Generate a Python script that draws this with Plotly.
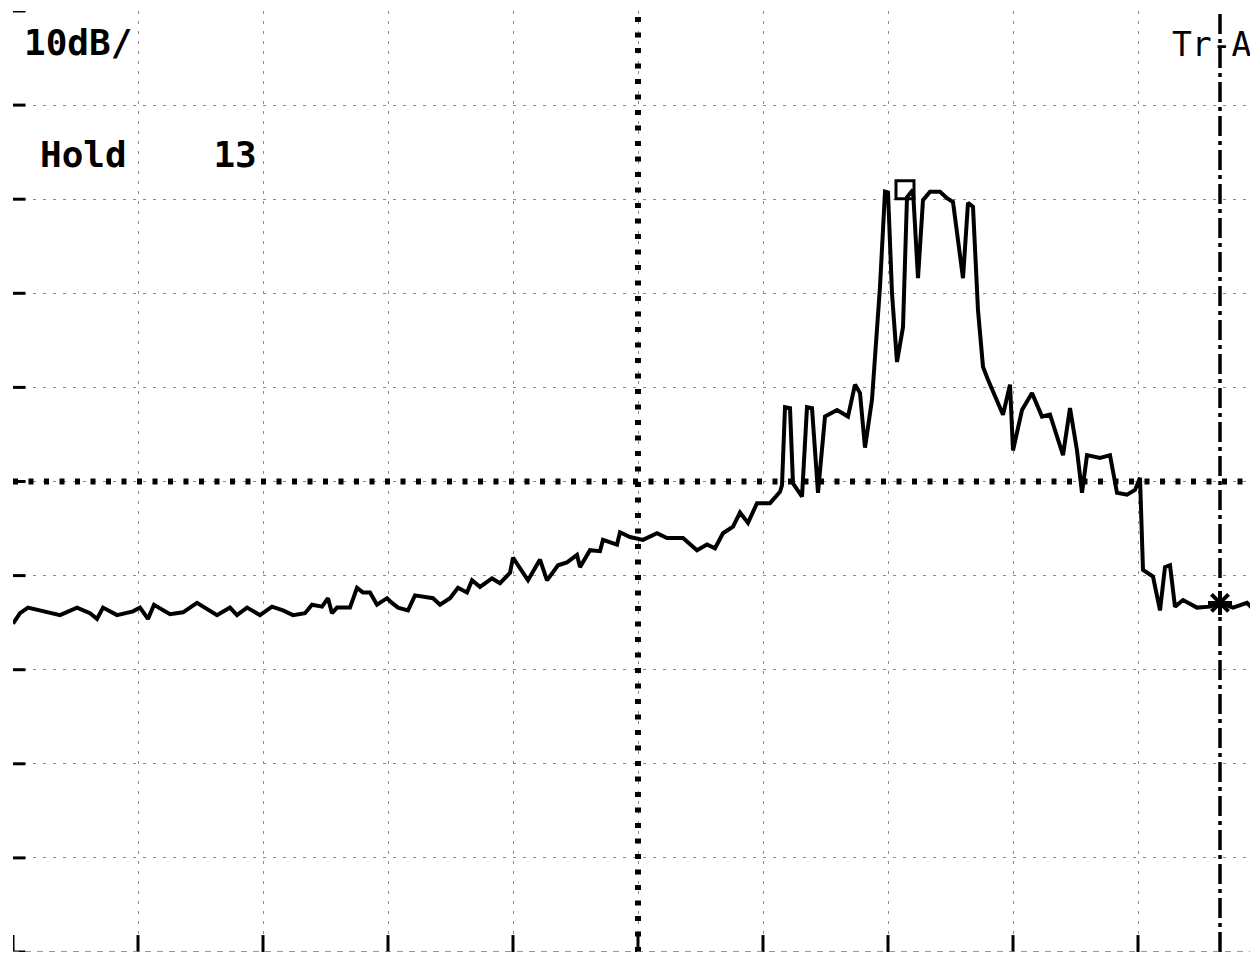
import plotly.graph_objects as go

# Horizontal position in screen divisions (0..10), level in dB (10 dB/div, top = 0 dB)
freq_div = [
    0.000, 0.056, 0.120, 0.272, 0.376, 0.512, 0.616, 0.672, 0.720, 0.832,
    0.960, 1.016, 1.080, 1.128, 1.200, 1.256, 1.360, 1.472, 1.632, 1.736,
    1.792, 1.872, 1.976, 2.072, 2.160, 2.240, 2.336, 2.392, 2.472, 2.520,
    2.552, 2.592, 2.696, 2.752, 2.800, 2.856, 2.912, 2.992, 3.032, 3.080,
    3.160, 3.216, 3.360, 3.416, 3.496, 3.560, 3.632, 3.672, 3.736, 3.832,
    3.896, 3.976, 4.000, 4.056, 4.120, 4.216, 4.272, 4.360, 4.432, 4.512,
    4.536, 4.616, 4.696, 4.720, 4.832, 4.856, 4.936, 5.040, 5.152, 5.232,
    5.360, 5.472, 5.552, 5.616, 5.680, 5.760, 5.816, 5.880, 5.952, 6.056,
    6.136, 6.152, 6.176, 6.216, 6.240, 6.312, 6.352, 6.392, 6.440, 6.496,
    6.592, 6.680, 6.736, 6.776, 6.816, 6.872, 6.896, 6.936, 6.976, 7.000,
    7.032, 7.072, 7.120, 7.152, 7.200, 7.240, 7.280, 7.336, 7.416, 7.472,
    7.520, 7.600, 7.640, 7.680, 7.720, 7.760, 7.800, 7.920, 7.976, 8.000,
    8.072, 8.152, 8.232, 8.296, 8.400, 8.456, 8.512, 8.552, 8.592, 8.696,
    8.776, 8.832, 8.912, 8.976, 9.016, 9.040, 9.120, 9.176, 9.216, 9.256,
    9.296, 9.360, 9.472, 9.576, 9.656, 9.760, 9.872, 9.952,
]
level_db = [
    -65.1, -64.0, -63.4, -63.9, -64.2, -63.4, -64.0, -64.6, -63.4, -64.2,
    -63.8, -63.4, -64.6, -63.1, -63.7, -64.1, -63.9, -62.9, -64.2, -63.4,
    -64.2, -63.4, -64.2, -63.3, -63.7, -64.2, -64.0, -63.1, -63.3, -62.4,
    -64.0, -63.4, -63.4, -61.3, -61.8, -61.8, -63.1, -62.4, -62.9, -63.4,
    -63.7, -62.1, -62.4, -63.1, -62.4, -61.3, -61.8, -60.5, -61.2, -60.3,
    -60.8, -59.7, -58.1, -59.2, -60.5, -58.3, -60.5, -58.9, -58.6, -57.8,
    -59.1, -57.3, -57.4, -56.2, -56.7, -55.4, -55.9, -56.2, -55.5, -56.0,
    -56.0, -57.3, -56.7, -57.1, -55.5, -54.8, -53.3, -54.4, -52.3, -52.3,
    -51.1, -50.4, -42.1, -42.2, -50.2, -51.6, -42.1, -42.2, -51.2, -43.1,
    -42.4, -43.1, -39.7, -40.6, -46.4, -41.3, -37.1, -29.3, -19.2, -19.3,
    -30.0, -37.3, -33.6, -19.8, -19.0, -28.4, -20.1, -19.2, -19.2, -19.9,
    -20.3, -28.4, -20.4, -20.8, -31.8, -37.8, -39.2, -42.9, -39.7, -46.7,
    -42.4, -40.6, -43.1, -42.9, -47.2, -42.2, -46.7, -51.2, -47.2, -47.5,
    -47.2, -51.2, -51.4, -50.9, -49.6, -59.4, -60.1, -63.7, -59.1, -58.9,
    -63.3, -62.6, -63.4, -63.3, -62.9, -63.4, -62.9, -64.0,
]

ref_marker = (7.136, -19.0)      # square reference marker near the peak
delta_marker = (9.656, -62.9)    # delta marker on the trace
grid_divs = list(range(0, 11))
level_lines = [0, -10, -20, -30, -40, -50, -60, -70, -80, -90, -100]

label_scale = "10dB/"
label_hold = "Hold    13"
label_trace = "Tr-A"

fig = go.Figure()

fig.add_trace(go.Scatter(
    x=freq_div, y=level_db, mode="lines",
    line=dict(color="black", width=4), hoverinfo="skip", showlegend=False,
))
fig.add_trace(go.Scatter(
    x=[ref_marker[0]], y=[ref_marker[1]], mode="markers",
    marker=dict(symbol="square-open", size=18, color="black", line=dict(width=3, color="black")),
    showlegend=False, hoverinfo="skip",
))
fig.add_trace(go.Scatter(
    x=[delta_marker[0]], y=[delta_marker[1]], mode="markers",
    marker=dict(symbol="asterisk-open", size=20, color="black", line=dict(width=4, color="black")),
    showlegend=False, hoverinfo="skip",
))

shapes = []
# heavy dotted centre lines
shapes.append(dict(type="line", xref="x", yref="y", x0=5, x1=5, y0=-100, y1=0,
                   line=dict(color="black", width=6, dash="5px,10.5px")))
shapes.append(dict(type="line", xref="x", yref="y", x0=0, x1=10, y0=-50, y1=-50,
                   line=dict(color="black", width=6, dash="5px,10.5px")))
# delta marker line (dash-dot)
shapes.append(dict(type="line", xref="x", yref="y", x0=delta_marker[0], x1=delta_marker[0], y0=-100, y1=0,
                   line=dict(color="black", width=3.5, dash="20px,5px,4px,5px")))
# bottom tick stubs at each vertical division
for d in grid_divs:
    shapes.append(dict(type="line", xref="x", yref="y", x0=d, x1=d, y0=-100, y1=-98.2,
                       line=dict(color="black", width=3)))
# left stubs at each horizontal division
for lv in level_lines:
    shapes.append(dict(type="line", xref="x", yref="y", x0=0, x1=0.1, y0=lv, y1=lv,
                       line=dict(color="black", width=3)))
# bottom border
shapes.append(dict(type="line", xref="x", yref="y", x0=0, x1=10, y0=-100, y1=-100,
                   line=dict(color="#777777", width=1.5, dash="6px,6px")))

mono = "DejaVu Sans Mono"
annotations = [
    dict(x=0.07, y=-3.3, xref="x", yref="y", text=label_scale, showarrow=False,
         xanchor="left", yanchor="middle", font=dict(family=mono, size=36, color="black", weight="bold")),
    dict(x=0.2, y=-15.2, xref="x", yref="y", text=label_hold, showarrow=False,
         xanchor="left", yanchor="middle", font=dict(family=mono, size=36, color="black", weight="bold")),
    dict(x=9.256, y=-3.6, xref="x", yref="y", text=label_trace, showarrow=False,
         xanchor="left", yanchor="middle", font=dict(family=mono, size=33, color="black")),
]

fig.update_layout(
    width=1258, height=955,
    margin=dict(l=5, r=8, t=3, b=11),
    paper_bgcolor="white", plot_bgcolor="white",
    shapes=shapes, annotations=annotations,
    showlegend=False,
)
fig.update_xaxes(range=[0, 9.96], dtick=1, tick0=0, showgrid=True, gridcolor="#8a8a8a",
                 gridwidth=1, griddash="3px,7px", zeroline=False, showticklabels=False,
                 ticks="", showline=False, fixedrange=True)
fig.update_yaxes(range=[-100, 0], dtick=10, tick0=0, showgrid=True, gridcolor="#8a8a8a",
                 gridwidth=1, griddash="3px,7px", zeroline=False, showticklabels=False,
                 ticks="", showline=False, fixedrange=True)

fig.write_html("out.html")
